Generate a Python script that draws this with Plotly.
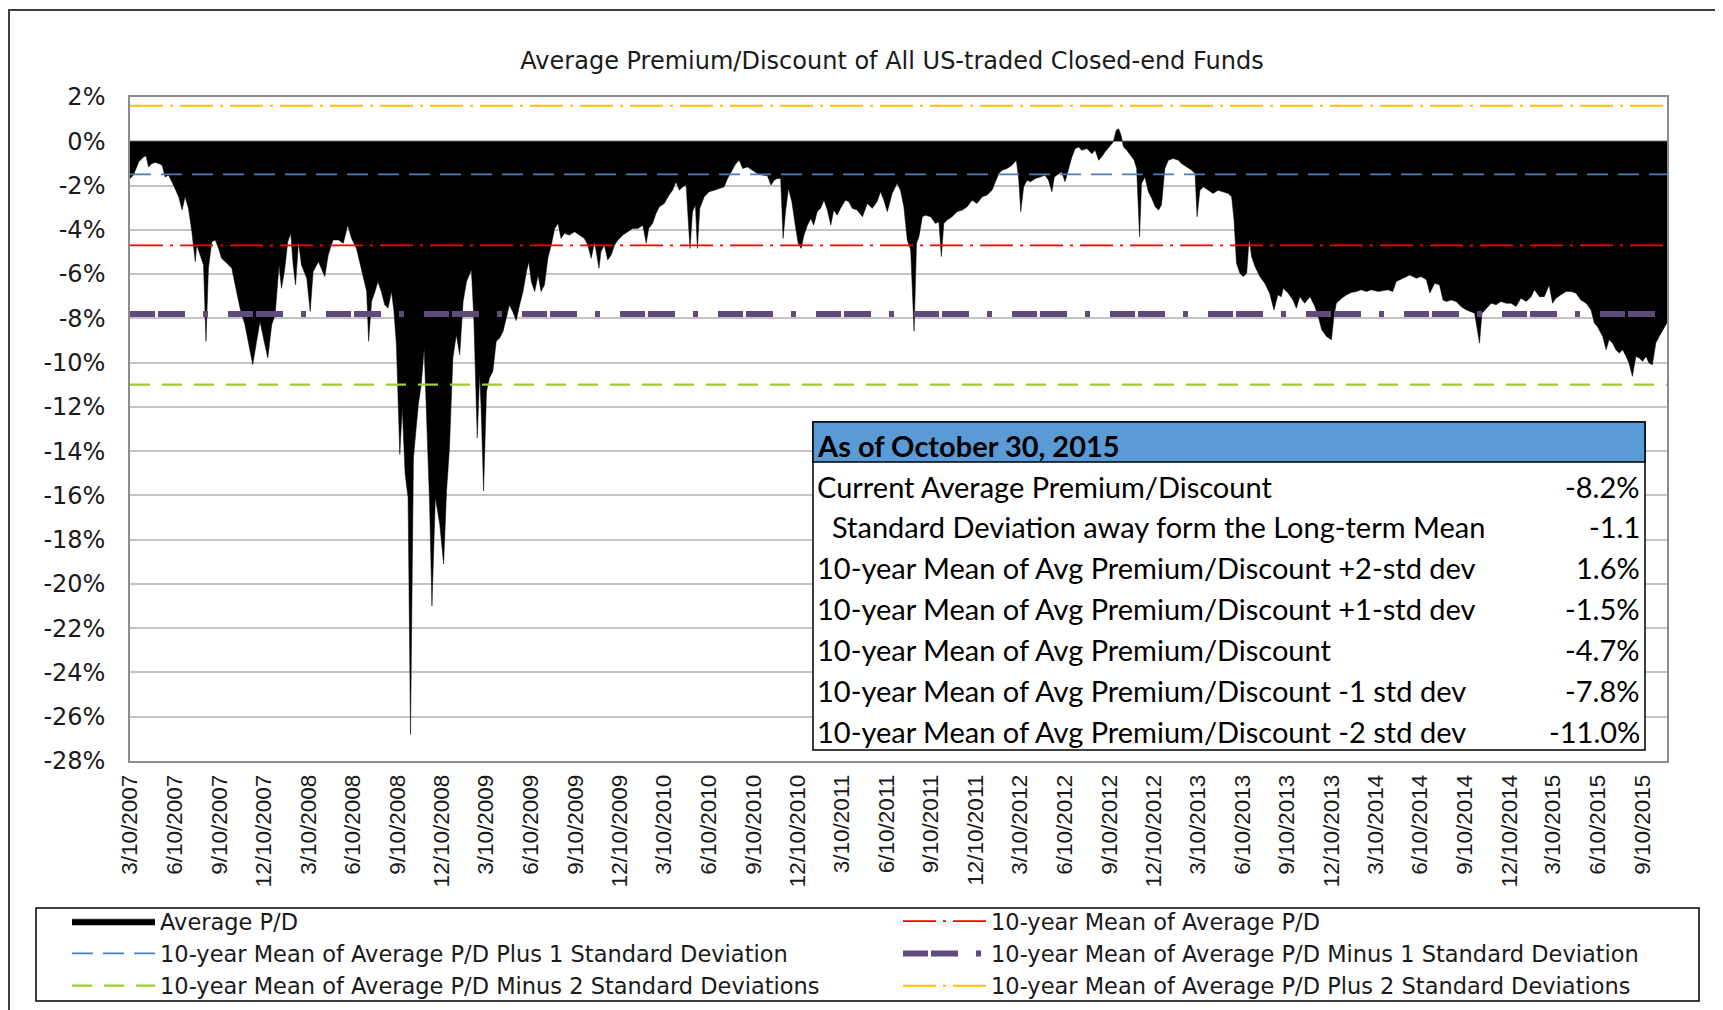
import plotly.graph_objects as go

# average premium/discount (%)
dates = [
    "2007-03-10", "2007-03-17", "2007-03-28", "2007-04-07", "2007-04-12", "2007-04-17", "2007-04-24",
    "2007-05-01", "2007-05-08", "2007-05-15", "2007-05-21", "2007-05-28", "2007-06-04", "2007-06-11",
    "2007-06-18", "2007-06-25", "2007-07-01", "2007-07-08", "2007-07-15", "2007-07-22", "2007-07-25",
    "2007-08-01", "2007-08-08", "2007-08-13", "2007-08-18", "2007-08-25", "2007-09-01", "2007-09-08",
    "2007-09-14", "2007-09-25", "2007-10-05", "2007-10-12", "2007-10-22", "2007-11-01", "2007-11-08",
    "2007-11-17", "2007-11-25", "2007-12-02", "2007-12-09", "2007-12-18", "2007-12-26", "2008-01-02",
    "2008-01-10", "2008-01-15", "2008-01-21", "2008-01-28", "2008-02-03", "2008-02-08", "2008-02-13",
    "2008-02-19", "2008-02-25", "2008-03-07", "2008-03-14", "2008-03-20", "2008-03-31", "2008-04-06",
    "2008-04-13", "2008-04-20", "2008-04-30", "2008-05-11", "2008-05-21", "2008-05-30", "2008-06-07",
    "2008-06-17", "2008-06-27", "2008-07-08", "2008-07-12", "2008-07-18", "2008-07-25", "2008-07-31",
    "2008-08-07", "2008-08-14", "2008-08-21", "2008-08-28", "2008-09-02", "2008-09-07", "2008-09-14",
    "2008-09-19", "2008-09-25", "2008-10-01", "2008-10-06", "2008-10-12", "2008-10-22", "2008-10-28",
    "2008-11-03", "2008-11-08", "2008-11-14", "2008-11-19", "2008-11-26", "2008-12-05", "2008-12-13",
    "2008-12-19", "2008-12-25", "2009-01-01", "2009-01-08", "2009-01-15", "2009-01-22", "2009-01-29",
    "2009-02-08", "2009-02-13", "2009-02-20", "2009-02-25", "2009-02-28", "2009-03-05", "2009-03-11",
    "2009-03-17", "2009-03-24", "2009-03-31", "2009-04-07", "2009-04-14", "2009-04-21", "2009-04-27",
    "2009-05-04", "2009-05-11", "2009-05-18", "2009-05-25", "2009-06-01", "2009-06-06", "2009-06-11",
    "2009-06-18", "2009-06-25", "2009-07-01", "2009-07-08", "2009-07-15", "2009-07-22", "2009-07-29",
    "2009-08-05", "2009-08-11", "2009-08-18", "2009-08-28", "2009-09-08", "2009-09-18", "2009-09-28",
    "2009-10-05", "2009-10-12", "2009-10-19", "2009-10-24", "2009-10-28", "2009-11-01", "2009-11-08",
    "2009-11-15", "2009-11-22", "2009-11-29", "2009-12-06", "2009-12-16", "2009-12-26", "2010-01-05",
    "2010-01-16", "2010-01-26", "2010-02-02", "2010-02-07", "2010-02-15", "2010-02-22", "2010-03-01",
    "2010-03-11", "2010-03-21", "2010-03-28", "2010-04-04", "2010-04-11", "2010-04-18", "2010-04-25",
    "2010-04-29", "2010-05-03", "2010-05-08", "2010-05-14", "2010-05-18", "2010-05-23", "2010-06-01",
    "2010-06-11", "2010-06-22", "2010-07-02", "2010-07-12", "2010-07-19", "2010-07-26", "2010-08-05",
    "2010-08-12", "2010-08-19", "2010-08-29", "2010-09-08", "2010-09-18", "2010-09-29", "2010-10-09",
    "2010-10-16", "2010-10-23", "2010-10-29", "2010-11-05", "2010-11-10", "2010-11-15", "2010-11-21",
    "2010-11-28", "2010-12-05", "2010-12-11", "2010-12-17", "2010-12-23", "2010-12-30", "2011-01-06",
    "2011-01-12", "2011-01-19", "2011-01-26", "2011-02-02", "2011-02-09", "2011-02-16", "2011-02-22",
    "2011-03-01", "2011-03-08", "2011-03-18", "2011-03-25", "2011-04-01", "2011-04-11", "2011-04-22",
    "2011-05-02", "2011-05-12", "2011-05-22", "2011-05-29", "2011-06-05", "2011-06-12", "2011-06-22",
    "2011-07-02", "2011-07-09", "2011-07-16", "2011-07-23", "2011-07-30", "2011-08-06", "2011-08-11",
    "2011-08-16", "2011-08-23", "2011-08-29", "2011-09-09", "2011-09-19", "2011-09-26", "2011-10-01",
    "2011-10-06", "2011-10-13", "2011-10-23", "2011-11-02", "2011-11-13", "2011-11-23", "2011-12-03",
    "2011-12-13", "2011-12-24", "2012-01-03", "2012-01-13", "2012-01-20", "2012-01-27", "2012-02-03",
    "2012-02-13", "2012-02-23", "2012-03-03", "2012-03-08", "2012-03-12", "2012-03-18", "2012-03-25",
    "2012-04-01", "2012-04-11", "2012-04-21", "2012-05-01", "2012-05-08", "2012-05-15", "2012-05-20",
    "2012-05-29", "2012-06-04", "2012-06-11", "2012-06-18", "2012-06-25", "2012-07-02", "2012-07-09",
    "2012-07-15", "2012-07-26", "2012-08-05", "2012-08-12", "2012-08-19", "2012-08-25", "2012-09-01",
    "2012-09-10", "2012-09-18", "2012-09-24", "2012-09-29", "2012-10-04", "2012-10-09", "2012-10-16",
    "2012-10-24", "2012-10-31", "2012-11-05", "2012-11-11", "2012-11-15", "2012-11-22", "2012-11-29",
    "2012-12-06", "2012-12-13", "2012-12-20", "2012-12-26", "2013-01-02", "2013-01-09", "2013-01-19",
    "2013-01-30", "2013-02-05", "2013-02-16", "2013-02-26", "2013-03-05", "2013-03-09", "2013-03-15",
    "2013-03-22", "2013-04-01", "2013-04-11", "2013-04-21", "2013-05-02", "2013-05-12", "2013-05-19",
    "2013-05-24", "2013-05-29", "2013-06-05", "2013-06-12", "2013-06-19", "2013-06-24", "2013-06-29",
    "2013-07-06", "2013-07-16", "2013-07-26", "2013-08-05", "2013-08-14", "2013-08-22", "2013-08-29",
    "2013-09-02", "2013-09-12", "2013-09-22", "2013-09-29", "2013-10-06", "2013-10-16", "2013-10-27",
    "2013-11-06", "2013-11-13", "2013-11-20", "2013-11-30", "2013-12-10", "2013-12-15", "2013-12-20",
    "2013-12-31", "2014-01-10", "2014-01-20", "2014-01-30", "2014-02-09", "2014-02-20", "2014-03-02",
    "2014-03-16", "2014-04-05", "2014-04-15", "2014-04-22", "2014-05-06", "2014-05-20", "2014-06-02",
    "2014-06-12", "2014-06-23", "2014-06-30", "2014-07-10", "2014-07-20", "2014-07-27", "2014-08-03",
    "2014-08-13", "2014-08-23", "2014-09-02", "2014-09-13", "2014-09-30", "2014-10-10", "2014-10-15",
    "2014-10-24", "2014-11-03", "2014-11-13", "2014-11-23", "2014-12-04", "2014-12-14", "2014-12-24",
    "2015-01-03", "2015-01-14", "2015-01-24", "2015-01-31", "2015-02-10", "2015-02-20", "2015-03-02",
    "2015-03-09", "2015-03-16", "2015-03-26", "2015-04-06", "2015-04-16", "2015-04-26", "2015-05-06",
    "2015-05-17", "2015-05-27", "2015-06-03", "2015-06-09", "2015-06-20", "2015-06-27", "2015-07-03",
    "2015-07-10", "2015-07-17", "2015-07-24", "2015-07-31", "2015-08-07", "2015-08-13", "2015-08-20",
    "2015-08-27", "2015-09-03", "2015-09-10", "2015-09-17", "2015-09-23", "2015-09-30", "2015-10-07",
    "2015-10-14", "2015-10-30",
]
avg_pd = [
    -1.68, -1.53, -0.93, -0.71, -0.66, -1.16, -1.01,
    -0.96, -1.01, -1.08, -1.61, -1.53, -1.83, -2.21,
    -2.51, -3.11, -2.51, -3.03, -4.09, -5.44, -4.69,
    -5.14, -5.59, -9.04, -5.74, -4.54, -4.46, -4.84,
    -5.29, -5.51, -5.74, -6.49, -7.54, -8.29, -9.04,
    -10.09, -9.04, -8.14, -8.89, -9.79, -8.29, -7.84,
    -5.59, -6.64, -5.89, -4.54, -4.16, -5.59, -6.49,
    -4.54, -5.59, -6.19, -7.69, -5.89, -5.44, -5.74,
    -6.11, -5.14, -4.46, -4.46, -4.61, -3.79, -4.39,
    -4.84, -5.74, -6.79, -9.04, -7.24, -6.79, -6.34,
    -6.79, -7.39, -7.54, -6.79, -7.69, -9.19, -14.15,
    -12.05, -15.05, -16.10, -26.8, -14.3, -11.9, -11.0,
    -9.34, -12.8, -16.25, -21.0, -16.1, -17.3, -19.1,
    -15.8, -13.85, -9.79, -8.74, -9.64, -7.24, -6.34,
    -5.81, -7.99, -13.4, -10.5, -12.05, -15.8, -11.3,
    -10.7, -10.4, -9.04, -8.89, -8.59, -7.99, -7.4,
    -7.7, -8.1, -7.39, -6.79, -5.89, -5.44, -6.34,
    -6.79, -6.04, -6.79, -6.49, -5.29, -4.69, -3.94,
    -3.71, -4.39, -4.16, -4.24, -4.09, -4.24, -4.39,
    -4.69, -5.29, -4.54, -5.29, -5.74, -4.99, -4.69,
    -5.36, -5.14, -4.69, -4.46, -4.24, -4.09, -3.94,
    -3.94, -3.79, -4.61, -3.94, -3.71, -3.26, -2.96,
    -2.81, -2.43, -2.21, -1.83, -2.21, -2.06, -1.98,
    -3.48, -4.84, -3.18, -2.88, -4.84, -3.03, -2.51,
    -2.28, -2.21, -2.13, -2.06, -1.68, -1.38, -1.01,
    -0.86, -1.23, -1.16, -1.31, -1.46, -1.53, -1.56,
    -1.98, -1.76, -1.68, -1.68, -4.39, -3.18, -2.13,
    -2.73, -3.79, -4.61, -4.84, -4.24, -3.79, -3.49,
    -3.79, -3.18, -3.03, -2.66, -3.11, -3.79, -3.11,
    -3.34, -3.03, -2.66, -2.73, -3.03, -3.11, -3.41,
    -2.81, -3.03, -2.73, -2.28, -2.66, -3.18, -2.36,
    -1.9, -2.21, -2.96, -4.46, -4.91, -8.59, -4.61,
    -4.31, -3.41, -3.34, -3.41, -3.71, -3.64, -5.21,
    -3.71, -3.56, -3.41, -3.18, -3.11, -2.96, -2.66,
    -2.81, -2.51, -2.43, -2.21, -1.83, -1.46, -1.31,
    -1.23, -1.08, -0.86, -1.76, -3.18, -2.06, -1.76,
    -1.83, -1.68, -1.61, -1.53, -1.76, -2.28, -1.61,
    -1.46, -1.38, -1.83, -1.23, -0.71, -0.33, -0.26,
    -0.41, -0.33, -0.56, -0.41, -0.86, -0.71, -0.48,
    -0.26, -0.03, 0.50, 0.57, 0.27, -0.26, -0.41,
    -0.63, -0.86, -1.23, -4.31, -1.91, -1.61, -2.28,
    -2.58, -2.96, -3.11, -2.88, -1.23, -0.86, -0.78,
    -0.86, -1.01, -1.16, -1.31, -1.46, -3.41, -2.21,
    -2.06, -2.21, -2.36, -2.21, -2.28, -2.36, -2.51,
    -3.56, -5.51, -5.96, -6.11, -5.96, -4.39, -5.21,
    -5.66, -6.11, -6.41, -6.86, -7.62, -6.94, -7.02,
    -6.64, -6.86, -7.17, -7.54, -7.02, -7.32, -7.02,
    -7.47, -7.92, -8.52, -8.82, -8.97, -7.92, -7.32,
    -7.09, -6.94, -6.83, -6.79, -6.71, -6.79, -6.71,
    -6.79, -6.71, -6.79, -6.34, -6.19, -6.04, -6.19,
    -6.11, -6.26, -6.86, -6.41, -6.49, -7.17, -7.24,
    -7.17, -7.24, -7.47, -7.62, -7.77, -9.12, -7.77,
    -7.54, -7.32, -7.39, -7.24, -7.32, -7.32, -7.47,
    -7.09, -7.24, -7.02, -6.71, -7.02, -7.02, -6.49,
    -7.32, -7.09, -6.94, -6.79, -6.79, -6.86, -7.17,
    -7.32, -7.62, -8.22, -8.37, -8.82, -9.42, -8.97,
    -9.12, -9.42, -9.57, -9.42, -9.72, -10.02, -10.62,
    -9.72, -9.79, -9.94, -9.72, -10.02, -10.1, -9.12,
    -8.82, -8.2,
]

# 10-year mean and standard deviation bands
band_names = [
    "10-year Mean of Average P/D",
    "10-year Mean of Average P/D Plus 1 Standard Deviation",
    "10-year Mean of Average P/D Minus 1 Standard Deviation",
    "10-year Mean of Average P/D Minus 2 Standard Deviations",
    "10-year Mean of Average P/D Plus 2 Standard Deviations",
]
band_values = [-4.7, -1.5, -7.8, -11.0, 1.6]
band_colors = ["#FF0000", "#4A7EBB", "#604A7B", "#9ACD32", "#FFC000"]
band_widths = [1.75, 1.75, 6, 2.25, 2]
band_dashes = ["33px,7px,3px,7px", "21px,10px", "25px,3px,27px,18px,5px,20px",
               "20px,12px", "33px,7px,3px,7px"]
# legend column each band sits in
band_legend = ["legend2", "legend", "legend2", "legend", "legend2"]

tick_dates = [
    "2007-03-10", "2007-06-10", "2007-09-10", "2007-12-10", "2008-03-10", "2008-06-10", "2008-09-10",
    "2008-12-10", "2009-03-10", "2009-06-10", "2009-09-10", "2009-12-10", "2010-03-10", "2010-06-10",
    "2010-09-10", "2010-12-10", "2011-03-10", "2011-06-10", "2011-09-10", "2011-12-10", "2012-03-10",
    "2012-06-10", "2012-09-10", "2012-12-10", "2013-03-10", "2013-06-10", "2013-09-10", "2013-12-10",
    "2014-03-10", "2014-06-10", "2014-09-10", "2014-12-10", "2015-03-10", "2015-06-10", "2015-09-10",
]
tick_text = [
    "3/10/2007", "6/10/2007", "9/10/2007", "12/10/2007", "3/10/2008", "6/10/2008", "9/10/2008",
    "12/10/2008", "3/10/2009", "6/10/2009", "9/10/2009", "12/10/2009", "3/10/2010", "6/10/2010",
    "9/10/2010", "12/10/2010", "3/10/2011", "6/10/2011", "9/10/2011", "12/10/2011", "3/10/2012",
    "6/10/2012", "9/10/2012", "12/10/2012", "3/10/2013", "6/10/2013", "9/10/2013", "12/10/2013",
    "3/10/2014", "6/10/2014", "9/10/2014", "12/10/2014", "3/10/2015", "6/10/2015", "9/10/2015",
]
y_ticks = [2, 0, -2, -4, -6, -8, -10, -12, -14, -16, -18, -20, -22, -24, -26, -28]
y_tick_text = ["2%", "0%", "-2%", "-4%", "-6%", "-8%", "-10%", "-12%", "-14%", "-16%",
               "-18%", "-20%", "-22%", "-24%", "-26%", "-28%"]

table_title = "As of October 30, 2015"
table_labels = [
    "Current Average Premium/Discount",
    "Standard Deviation away form the Long-term Mean",
    "10-year Mean of Avg Premium/Discount +2-std dev",
    "10-year Mean of Avg Premium/Discount +1-std dev",
    "10-year Mean of Avg Premium/Discount",
    "10-year Mean of Avg Premium/Discount -1 std dev",
    "10-year Mean of Avg Premium/Discount -2 std dev",
]
table_values = ["-8.2%", "-1.1", "1.6%", "-1.5%", "-4.7%", "-7.8%", "-11.0%"]

# the page body adds an 8px margin, so the figure is 8px smaller and
# positions below are given in page pixels and shifted back by OFF
OFF = 8
W, H = 1723 - OFF, 1010 - OFF
L, R, T, B = 130 - OFF, 56, 97 - OFF, 249
PW, PH = W - L - R, H - T - B


def fx(px):
    return (px - OFF - L) / PW


def fy(py):
    return (H - B - (py - OFF)) / PH


FONT = "DejaVu Sans"

fig = go.Figure()
fig.add_trace(go.Scatter(
    x=dates, y=avg_pd, name="Average P/D", mode="lines",
    line=dict(color="black", width=0.5), fill="tozeroy", fillcolor="black",
    legend="legend",
))
for name, val, col, lw, dash, lg in zip(band_names, band_values, band_colors,
                                        band_widths, band_dashes, band_legend):
    fig.add_trace(go.Scatter(
        x=[dates[0], dates[-1]], y=[val, val], name=name, mode="lines",
        line=dict(color=col, width=lw, dash=dash), legend=lg,
    ))

shapes = [
    # outer chart frame
    dict(type="rect", xref="paper", yref="paper", x0=fx(9), x1=fx(1745), y0=fy(10), y1=fy(1040),
         line=dict(color="#404040", width=2)),
    # legend box
    dict(type="rect", xref="paper", yref="paper", x0=fx(36), x1=fx(1699), y0=fy(908), y1=fy(1001),
         line=dict(color="black", width=1.5)),
    # table
    dict(type="rect", xref="paper", yref="paper", x0=fx(813), x1=fx(1645), y0=fy(422), y1=fy(750),
         fillcolor="white", line=dict(color="black", width=1.5)),
    dict(type="rect", xref="paper", yref="paper", x0=fx(813), x1=fx(1645), y0=fy(422), y1=fy(462),
         fillcolor="#5B9BD5", line=dict(color="black", width=1.5)),
]

TFONT = dict(family="Lato", size=29, color="black")
annotations = [dict(
    text="<b>" + table_title + "</b>", xref="paper", yref="paper", x=fx(815), y=fy(445),
    xanchor="left", yanchor="middle", showarrow=False, font=TFONT,
)]
for i, (lab, val) in enumerate(zip(table_labels, table_values)):
    yc = 486 + 40.95 * i
    annotations.append(dict(
        text=lab, xref="paper", yref="paper", x=fx(830 if i == 1 else 815), y=fy(yc),
        xanchor="left", yanchor="middle", showarrow=False, font=TFONT,
    ))
    annotations.append(dict(
        text=val, xref="paper", yref="paper", x=fx(1642), y=fy(yc),
        xanchor="right", yanchor="middle", showarrow=False, font=TFONT,
    ))

legend_style = dict(
    orientation="h", xref="container", yref="container",
    y=1 - (900 - OFF) / H, xanchor="left", yanchor="top",
    entrywidth=800, entrywidthmode="pixels", itemwidth=83,
    font=dict(family=FONT, size=22.5, color="#1a1a1a"),
    bgcolor="rgba(0,0,0,0)", traceorder="normal",
)

fig.update_layout(
    width=W, height=H,
    margin=dict(l=L, r=R, t=T, b=B),
    paper_bgcolor="white", plot_bgcolor="white",
    title=dict(text="Average Premium/Discount of All US-traded Closed-end Funds",
               x=(892 - OFF) / W, y=1 - (60.5 - OFF) / H, xref="container", yref="container",
               xanchor="center", yanchor="middle",
               font=dict(family=FONT, size=24, color="#1a1a1a")),
    xaxis=dict(
        type="date", range=["2007-03-10", "2015-10-30"],
        tickmode="array", tickvals=tick_dates, ticktext=tick_text, tickangle=-90,
        tickfont=dict(family="Liberation Sans", size=22.5, color="#1a1a1a"),
        showgrid=False, showline=True, mirror=True, linecolor="#8C8C8C", linewidth=1.5,
        ticks="", ticklabelstandoff=3,
    ),
    yaxis=dict(
        range=[-28, 2], tickmode="array", tickvals=y_ticks, ticktext=y_tick_text,
        tickfont=dict(family=FONT, size=24, color="#1a1a1a"),
        showgrid=True, gridcolor="#C4C4C4", gridwidth=1.5, zeroline=False,
        showline=True, mirror=True, linecolor="#8C8C8C", linewidth=1.5,
        ticks="", ticklabelstandoff=18,
    ),
    legend=dict(legend_style, x=(67 - OFF) / W),
    legend2=dict(legend_style, x=(898 - OFF) / W),
    showlegend=True,
    shapes=shapes,
    annotations=annotations,
)

fig.write_html("out.html")
